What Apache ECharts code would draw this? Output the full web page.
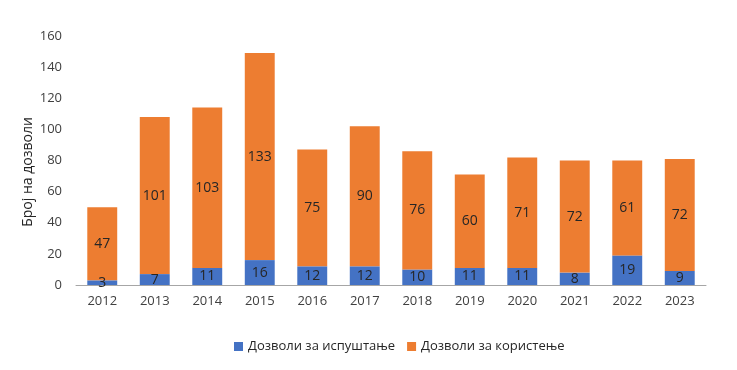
<!DOCTYPE html>
<html><head><meta charset="utf-8">
<script src="https://cdn.jsdelivr.net/npm/echarts@6/dist/echarts.min.js"></script>
<style>html,body{margin:0;padding:0;background:#fff}#c{width:737px;height:370px}</style>
</head><body><div id="c"></div>
<script>
const years = ['2012','2013','2014','2015','2016','2017','2018','2019','2020','2021','2022','2023'];
const discharge = [3,7,11,16,12,12,10,11,11,8,19,9];
const usage = [47,101,103,133,75,90,76,60,71,72,61,72];
const seriesNames = ['Дозволи за испуштање','Дозволи за користење'];
const yTitle = 'Број на дозволи';
const font = 'Open Sans';
const chart = echarts.init(document.getElementById('c'));
const lbl = {show:true, position:'inside', color:'#262626', fontSize:14, fontFamily:font};
chart.setOption({
  animation:false,
  grid:{left:76, right:31, top:36, bottom:85},
  graphic:[{type:'text', x:28, y:172, rotation:Math.PI/2,
    style:{text:yTitle, fill:'#262626', fontSize:14, fontFamily:font,
      textAlign:'center', textVerticalAlign:'middle'}}],
  legend:{bottom:12, left:229, itemWidth:9, itemHeight:9, itemGap:12,
    icon:'rect', textStyle:{fontSize:13, color:'#262626', fontFamily:font},
    data:seriesNames},
  xAxis:{type:'category', data:years,
    axisLine:{lineStyle:{color:'#a6a6a6'}}, axisTick:{show:false},
    axisLabel:{color:'#404040', fontSize:13, fontFamily:font, margin:10}},
  yAxis:{type:'value', min:0, max:160, interval:20,
    splitLine:{show:false}, axisLine:{show:false}, axisTick:{show:false},
    axisLabel:{color:'#404040', fontSize:13, fontFamily:font, margin:14}},
  series:[
    {name:seriesNames[0], type:'bar', stack:'a', data:discharge, barWidth:'57%',
     itemStyle:{color:'#4472C4'}, label:lbl},
    {name:seriesNames[1], type:'bar', stack:'a', data:usage, barWidth:'57%',
     itemStyle:{color:'#ED7D31'}, label:lbl}
  ]
});
</script></body></html>
